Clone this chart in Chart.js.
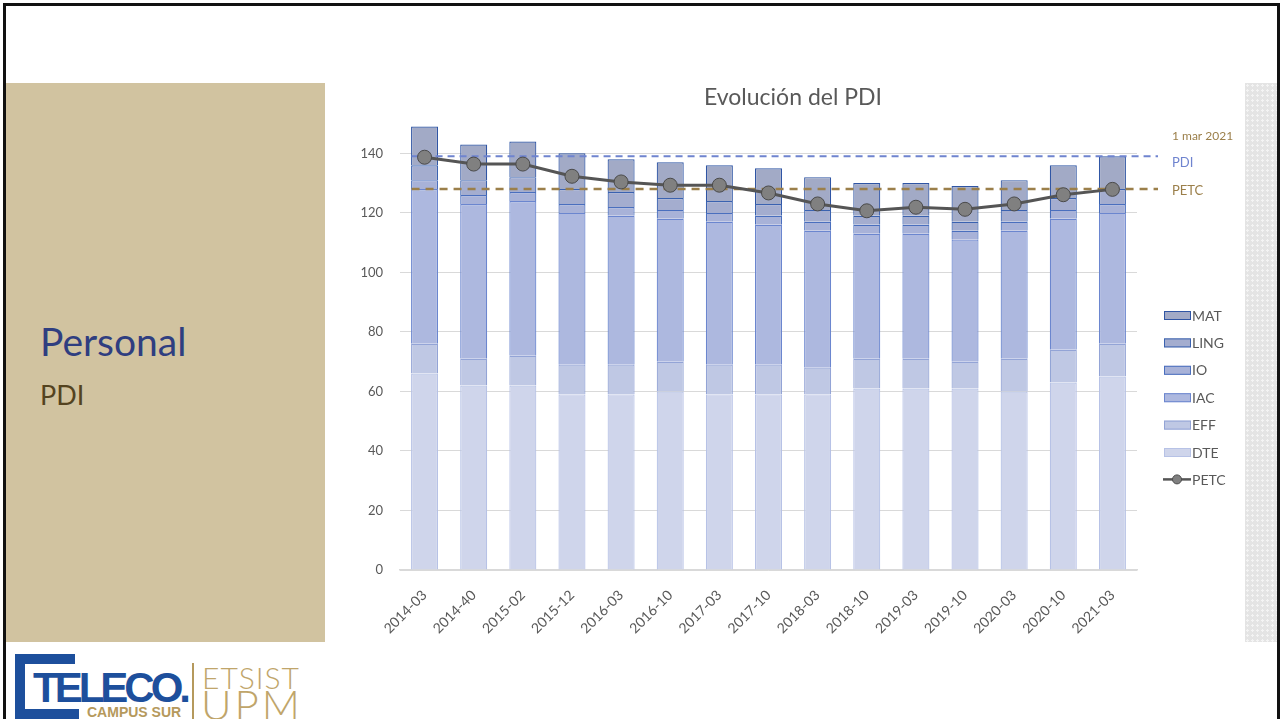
<!DOCTYPE html>
<html>
<head>
<meta charset="utf-8">
<title>Evolución del PDI</title>
<script src="https://cdn.jsdelivr.net/npm/chart.js@4.4.0/dist/chart.umd.min.js"></script>
<style>
    html, body { margin: 0; padding: 0; background: #fff; }
    body { width: 1282px; height: 719px; position: relative; overflow: hidden; font-family: Lato, "Open Sans", sans-serif; }
    .frame { position: absolute; left: 3px; top: 3px; width: 1271px; height: 730px; border: 3px solid #111; }
    .side { position: absolute; left: 6px; top: 83px; width: 319px; height: 559px; background: #d1c3a0; }
    .side h1 { position: absolute; left: 34px; top: 235px; margin: 0; font-weight: 400; font-size: 39px; color: #2f3e80; }
    .side h2 { position: absolute; left: 34px; top: 295px; margin: 0; font-weight: 400; font-size: 27px; color: #54431f; }
    .stripe { position: absolute; left: 1245px; top: 83px; width: 32px; height: 559px; background-color: #e4e4e4;
              background-image: radial-gradient(#f4f4f4 1px, transparent 1.2px); background-size: 5px 5px; }
    #chart-wrap { position: absolute; left: 330px; top: 83px; width: 915px; height: 559px; }
    .logo div { position: absolute; }
    .blue { background: #1d4f9c; }
    .teleco { left: 33px; top: 664px; font: bold 42px "Liberation Sans", Arial, sans-serif; letter-spacing: -4px; color: #1d4f9c; }
    .campus { left: 87px; top: 704px; font: bold 14px "Liberation Sans", Arial, sans-serif; color: #b5995c; }
    .vline { left: 192px; top: 663px; width: 1.5px; height: 60px; background: #b5995c; }
    .etsist { left: 202px; top: 659px; font: 300 30px Lato, sans-serif; letter-spacing: 1px; color: #c0a56a; }
    .upm { left: 201px; top: 679px; font: 300 42px Lato, sans-serif; letter-spacing: 3px; color: #c0a56a; }
</style>
</head>
<body>
<div class="frame"></div>
<div class="side">
    <h1>Personal</h1>
    <h2>PDI</h2>
</div>
<div class="stripe"></div>
<div id="chart-wrap"><canvas id="pdi-chart"></canvas></div>

<div class="logo">
    <div class="blue" style="left:15px;top:654px;width:60px;height:10px"></div>
    <div class="blue" style="left:15px;top:654px;width:10px;height:70px"></div>
    <div class="blue" style="left:15px;top:709px;width:64px;height:10px"></div>
    <div class="teleco">TELECO.</div>
    <div class="campus">CAMPUS SUR</div>
    <div class="vline"></div>
    <div class="etsist">ETSIST</div>
    <div class="upm">UPM</div>
</div>

<script>
// Evolución del PDI - stacked staff categories + PETC line

const categories = ['2014-03', '2014-40', '2015-02', '2015-12', '2016-03', '2016-10', '2017-03', '2017-10',
                    '2018-03', '2018-10', '2019-03', '2019-10', '2020-03', '2020-10', '2021-03'];

const dte  = [66, 62, 62, 59, 59, 60, 59, 59, 59, 61, 61, 61, 60, 63, 65];
const eff  = [10, 9, 10, 10, 10, 10, 10, 10, 9, 10, 10, 9, 11, 11, 11];
const iac  = [52, 52, 52, 51, 50, 48, 48, 47, 46, 42, 42, 41, 43, 44, 44];
const io   = [3, 3, 3, 3, 3, 3, 3, 3, 3, 3, 3, 3, 3, 3, 3];
const ling = [5, 5, 5, 5, 5, 4, 4, 4, 4, 3, 3, 3, 4, 4, 5];
const mat  = [13, 12, 12, 12, 11, 12, 12, 12, 11, 11, 11, 12, 10, 11, 11];

const petc = [138.7, 136.4, 136.4, 132.3, 130.4, 129.3, 129.3, 126.7, 123.0, 120.7, 121.9, 121.2, 123.0, 126.1, 127.9];

// reference lines at 1 mar 2021
const refDate = '1 mar 2021';
const refPdi = 139;
const refPetc = 128;

const yTicks = [0, 20, 40, 60, 80, 100, 120, 140];

const textColor = '#595959';

function barSet(label, data, fill, border) {
    return {
        type: 'bar',
        label: label,
        data: data,
        backgroundColor: fill,
        borderColor: border,
        borderWidth: 1.2,
        stack: 'pdi',
        order: 2,
        barPercentage: 0.55,
        categoryPercentage: 1
    };
}

// horizontal dashed reference lines, drawn just before the PETC line
const refLines = {
    id: 'refLines',
    beforeDatasetDraw(chart, args) {
        if (args.meta.type !== 'line') return;
        const ctx = chart.ctx;
        const x = chart.scales.x;
        const y = chart.scales.y;
        const x0 = x.getPixelForValue(0) - 13;
        const x1 = chart.chartArea.right + 21;
        const lines = [
            { v: refPdi, color: '#6f84cf', width: 2, dash: [7, 5] },
            { v: refPetc, color: '#9b7f4a', width: 2.5, dash: [8, 6] }
        ];
        ctx.save();
        lines.forEach(l => {
            const py = y.getPixelForValue(l.v);
            ctx.strokeStyle = l.color;
            ctx.lineWidth = l.width;
            ctx.setLineDash(l.dash);
            ctx.beginPath();
            ctx.moveTo(x0, py);
            ctx.lineTo(x1, py);
            ctx.stroke();
        });
        ctx.setLineDash([]);
        const tx = chart.chartArea.right + 35;
        ctx.textBaseline = 'middle';
        ctx.textAlign = 'left';
        ctx.font = '12px Lato, sans-serif';
        ctx.fillStyle = '#9b7f4a';
        ctx.fillText(refDate, tx, y.getPixelForValue(refPdi) - 20);
        ctx.font = '13px Lato, sans-serif';
        ctx.fillStyle = '#6f84cf';
        ctx.fillText('PDI', tx, y.getPixelForValue(refPdi) + 6);
        ctx.fillStyle = '#9b7f4a';
        ctx.fillText('PETC', tx, y.getPixelForValue(refPetc) + 2);
        ctx.restore();
    }
};

// legend on the right, in Excel order (top of stack first)
const sideLegend = {
    id: 'sideLegend',
    afterDraw(chart) {
        const ctx = chart.ctx;
        const sets = chart.data.datasets;
        const order = [5, 4, 3, 2, 1, 0, 6];
        const bx = chart.chartArea.right + 27;
        let by = 232;
        ctx.save();
        ctx.font = '14px Lato, sans-serif';
        ctx.textBaseline = 'middle';
        order.forEach(i => {
            const ds = sets[i];
            if (ds.type === 'bar') {
                ctx.fillStyle = ds.backgroundColor;
                ctx.fillRect(bx, by - 4, 27, 9);
                ctx.strokeStyle = ds.borderColor;
                ctx.lineWidth = 1;
                ctx.strokeRect(bx + 0.5, by - 3.5, 26, 8);
            } else {
                ctx.strokeStyle = ds.borderColor;
                ctx.lineWidth = 2.5;
                ctx.beginPath();
                ctx.moveTo(bx - 1, by);
                ctx.lineTo(bx + 27, by);
                ctx.stroke();
                ctx.beginPath();
                ctx.arc(bx + 13, by, 4.5, 0, Math.PI * 2);
                ctx.fillStyle = ds.pointBackgroundColor;
                ctx.fill();
                ctx.lineWidth = 1;
                ctx.strokeStyle = ds.pointBorderColor;
                ctx.stroke();
            }
            ctx.fillStyle = textColor;
            ctx.fillText(ds.label, bx + 28, by + 1);
            by += 27.4;
        });
        ctx.restore();
    }
};

const ctx = document.getElementById('pdi-chart').getContext('2d');

new Chart(ctx, {
    data: {
        labels: categories,
        datasets: [
            barSet('DTE', dte, '#cfd5eb', '#b7c2e6'),
            barSet('EFF', eff, '#bfc8e4', '#93a4d6'),
            barSet('IAC', iac, '#adb8df', '#6b86cf'),
            barSet('IO', io, '#a8b2d8', '#4a6fbe'),
            barSet('LING', ling, '#a4adcf', '#3a62b0'),
            barSet('MAT', mat, '#a2aac6', '#2f55a4'),
            {
                type: 'line',
                label: 'PETC',
                data: petc,
                stack: 'petc',
                order: 1,
                borderColor: '#555555',
                borderWidth: 3,
                pointRadius: 7,
                pointBackgroundColor: '#808080',
                pointBorderColor: '#4a4a4a',
                pointBorderWidth: 1,
                tension: 0
            }
        ]
    },
    options: {
        responsive: true,
        maintainAspectRatio: false,
        animation: false,
        layout: { padding: { left: 11, right: 0, top: 0, bottom: 0 } },
        scales: {
            x: {
                stacked: true,
                grid: { display: false },
                border: { color: '#d9d9d9', width: 1.5 },
                ticks: {
                    color: textColor,
                    font: { size: 14, family: 'Lato, sans-serif' },
                    minRotation: 45,
                    maxRotation: 45,
                    padding: 9
                },
                afterFit: (s) => { s.height = 72; }
            },
            y: {
                stacked: true,
                min: 0,
                max: 150,
                grid: { color: '#d9d9d9', drawTicks: false },
                border: { display: false },
                afterBuildTicks: (s) => { s.ticks = yTicks.map(v => ({ value: v })); },
                ticks: {
                    color: textColor,
                    font: { size: 13, family: 'Lato, sans-serif' },
                    padding: 17
                },
                afterFit: (s) => { s.width = 59; }
            },
            // empty axis, only reserves room for the legend on the right
            side: {
                type: 'linear',
                position: 'right',
                display: true,
                grid: { display: false },
                border: { display: false },
                ticks: { display: false },
                afterFit: (s) => { s.width = 108; }
            }
        },
        plugins: {
            legend: { display: false },
            tooltip: { enabled: false },
            title: {
                display: true,
                text: 'Evolución del PDI',
                color: textColor,
                font: { size: 23, weight: 'normal', family: 'Lato, sans-serif' },
                padding: { top: 1, bottom: 12 }
            }
        }
    },
    plugins: [refLines, sideLegend]
});
</script>
</body>
</html>
